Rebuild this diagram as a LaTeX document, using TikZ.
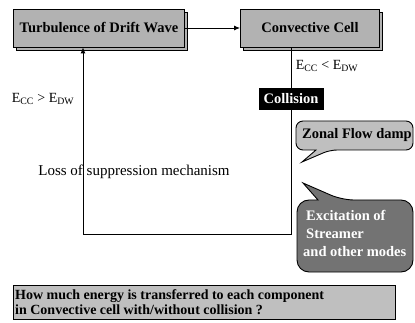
\documentclass[tikz,border=0pt]{standalone}
\usepackage{fontspec}
\setmainfont{Liberation Serif}
\usetikzlibrary{arrows.meta,calc,shadows}
\begin{document}
\begin{tikzpicture}[x=1pt,y=-1pt,
  box/.style={draw,line width=0.9pt,fill=black!30,inner sep=0pt,
    font=\bfseries\fontsize{14.5}{16}\selectfont,
    copy shadow={shadow xshift=3pt,shadow yshift=-3pt}},
  lbl/.style={inner sep=0pt,font=\fontsize{14}{16}\selectfont},
  link/.style={line width=0.9pt},
  arr/.style={link,-{Latex[length=6pt,width=5pt]}},
  bubtxt/.style={inner sep=0pt,font=\bfseries\fontsize{14.5}{17}\selectfont}]
\useasboundingbox (0,0) rectangle (415,323);
\fill[white] (0,0) rectangle (415,323);
% main boxes
\node[box,minimum width=171pt,minimum height=38pt] (tdw) at (99,28) {Turbulence of Drift Wave};
\node[box,minimum width=139pt,minimum height=38pt] (cc) at (310,28) {Convective Cell};
\draw[arr] (tdw) -- (cc);
% collision
\node[draw,fill=black,text=white,inner sep=0pt,minimum width=64pt,minimum height=21pt,
  font=\bfseries\fontsize{14.5}{16}\selectfont] (col) at (291,99) {Collision};
\draw[link] (col.north) -- (col.north |- cc.south);
\coordinate (bl) at (83,234);
\draw[arr] (col.south) |- (bl) -- (bl |- tdw.south);
% labels
\node[lbl] (lr) at (327,66) {E\textsubscript{CC} < E\textsubscript{DW}};
\node[lbl] (ll) at (43,99) {E\textsubscript{CC} > E\textsubscript{DW}};
\node[lbl,font=\fontsize{15}{17}\selectfont] (loss) at (134,172) {Loss of suppression mechanism};
% zonal flow bubble
\draw[line width=0.9pt,fill=black!25,rounded corners=7pt]
  (296,121) -- (413,121) -- (413,150) -- (330,150) [sharp corners]-- (302,162) -- (316,150)
  [rounded corners=7pt] -- (296,150) -- cycle;
\node[bubtxt] (zf) at (357,135.5) {Zonal Flow damp};
% excitation bubble
\draw[line width=0.9pt,fill=black!55,rounded corners=12pt]
  (297,200) -- (297,272) -- (413,272) -- (413,200) -- (342,200) [sharp corners]-- (303,183) -- (318,200)
  [rounded corners=12pt] -- cycle;
\node[bubtxt,text=white,align=left,anchor=north west,font=\bfseries\fontsize{14.5}{18}\selectfont] (ex) at (303,210)
  {\hspace*{3pt}Excitation of\\\hspace*{3pt}Streamer\\and other modes};
% bottom box
\node[draw,line width=0.6pt,fill=black!25,inner sep=0pt,minimum width=382pt,minimum height=34pt] (q) at (204,302) {};
\node[inner sep=0pt,align=left,anchor=west,font=\bfseries\fontsize{14}{15}\selectfont] (qt) at (15,302)
  {How much energy is transferred to each component\\in Convective cell with/without collision ?};
\end{tikzpicture}
\end{document}
